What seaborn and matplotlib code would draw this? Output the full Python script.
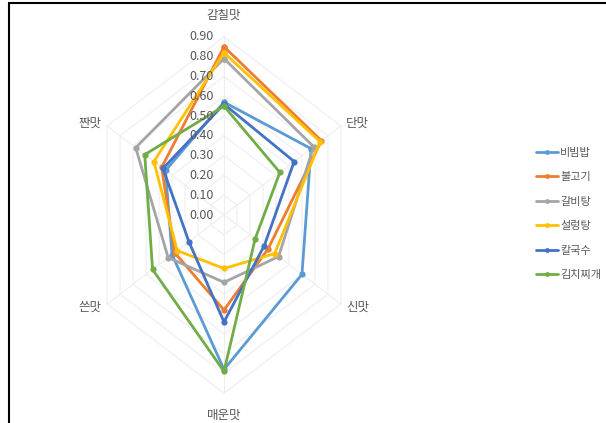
import numpy as np
import pandas as pd
import matplotlib.pyplot as plt
import seaborn as sns
from matplotlib.lines import Line2D
from matplotlib.patches import Rectangle

# axes of the radar, clockwise from the top
tastes = ['감칠맛', '단맛', '신맛', '매운맛', '쓴맛', '짠맛']
foods = ['비빔밥', '불고기', '갈비탕', '설렁탕', '칼국수', '김치찌개']

bibimbap = [0.57, 0.67, 0.60, 0.78, 0.40, 0.45]
bulgogi = [0.85, 0.75, 0.34, 0.48, 0.38, 0.48]
galbitang = [0.79, 0.69, 0.42, 0.34, 0.43, 0.68]
seolleongtang = [0.82, 0.74, 0.39, 0.27, 0.36, 0.54]
kalguksu = [0.56, 0.54, 0.31, 0.54, 0.27, 0.47]
kimchi_jjigae = [0.55, 0.43, 0.24, 0.79, 0.55, 0.61]

tick_vals = [0.0, 0.1, 0.2, 0.3, 0.4, 0.5, 0.6, 0.7, 0.8, 0.9]
colors = ['#5B9BD5', '#ED7D31', '#A5A5A5', '#FFC000', '#4472C4', '#70AD47']

series = [bibimbap, bulgogi, galbitang, seolleongtang, kalguksu, kimchi_jjigae]

sns.set_theme(style='white')
plt.rcParams['font.family'] = ['Noto Sans CJK KR', 'DejaVu Sans']

ang = np.deg2rad(np.arange(len(tastes)) * 60)
dx, dy = np.sin(ang), np.cos(ang)

rows = []
for food, vals in zip(foods, series):
    for i in range(len(tastes) + 1):
        k = i % len(tastes)
        rows.append({'food': food, 'x': vals[k] * dx[k], 'y': vals[k] * dy[k]})
df = pd.DataFrame(rows)

fig = plt.figure(figsize=(6.06, 4.23), dpi=100)
ax = fig.add_axes([0, 0, 1, 1])
ax.set_xlim(-224 / 150, (606 - 224) / 150)
ax.set_ylim(-208 / 198, 215 / 198)
ax.axis('off')

# hexagon grid and spokes, very faint like the original
grid_c = '#eeeeee'
idx = list(range(len(tastes))) + [0]
for t in tick_vals[1:]:
    ax.plot(t * dx[idx], t * dy[idx], color=grid_c, lw=0.8, zorder=1)
for k in range(len(tastes)):
    ax.plot([0, 0.9 * dx[k]], [0, 0.9 * dy[k]], color=grid_c, lw=0.8, zorder=1)

sns.lineplot(data=df, x='x', y='y', hue='food', palette=colors, sort=False,
             estimator=None, marker='o', markersize=4.5, markeredgewidth=0,
             linewidth=2, legend=False, ax=ax, zorder=3)

for t in tick_vals:
    ax.text(-0.07, t, f'{t:.2f}', ha='right', va='center', fontsize=9,
            color='#595959', zorder=4)

for k, name in enumerate(tastes):
    if abs(dy[k]) > 0.99:
        x, y = 0, 1.01 * dy[k]
    else:
        x, y = 1.03 * dx[k], 0.93 * dy[k]
    ax.text(x, y, name, ha='center', va='center', fontsize=9, color='#595959')

handles = [Line2D([], [], color=c, lw=2, marker='o', markersize=3.5,
                  markeredgewidth=0) for c in colors]
fig.legend(handles, foods, loc='center left', bbox_to_anchor=(0.875, 0.494),
           frameon=False, fontsize=8, handlelength=2.0, handletextpad=0.2,
           labelspacing=1.3, borderpad=0, labelcolor='#595959')

fig.patches.append(Rectangle((9 / 606, -0.1), 1.2, 1.1 - 3 / 423,
                             transform=fig.transFigure, fill=False,
                             edgecolor='black', lw=1.5))

fig.savefig('out.png', dpi=100)
